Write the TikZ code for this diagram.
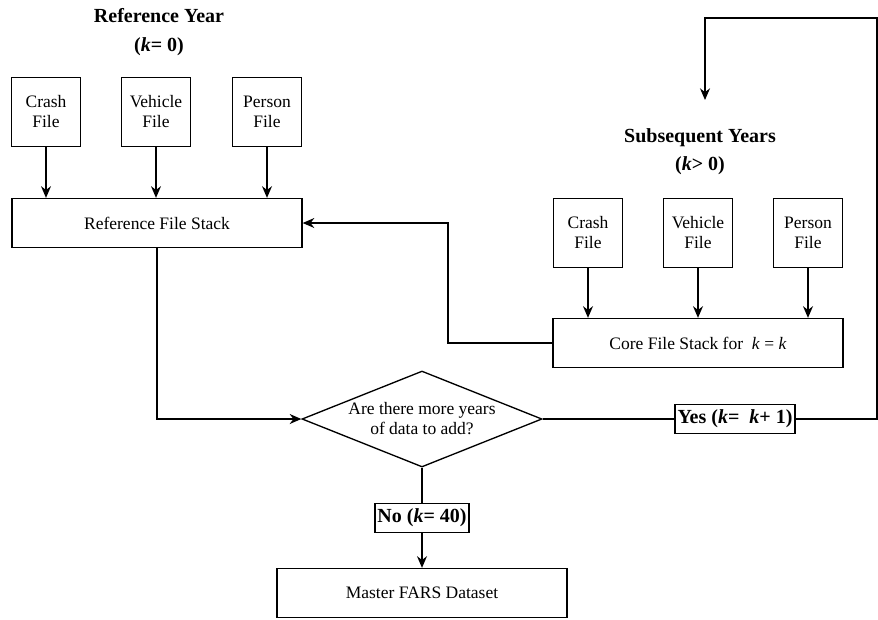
\documentclass[tikz,border=0pt]{standalone}
\usepackage{fontspec}
\setmainfont{Liberation Serif}
\usetikzlibrary{shapes.geometric,arrows.meta}
\tikzset{
	fichier/.style={draw,line width=0.8pt,minimum width=41.4pt,minimum height=41.4pt,inner sep=1pt,align=center,font=\fontsize{10.5}{12}\selectfont},
	pile/.style={draw,line width=0.8pt,minimum width=174pt,minimum height=29.4pt,font=\fontsize{10.5}{12}\selectfont},
	question/.style={draw,line width=0.8pt,diamond,aspect=2.5,inner sep=0pt,minimum width=144pt,minimum height=57.6pt,align=center,font=\fontsize{10.5}{12}\selectfont},
	etiquette/.style={draw,line width=0.8pt,fill=white,inner sep=1.5pt,minimum height=17.4pt,font=\fontsize{12}{14}\selectfont\bfseries},
	titre/.style={align=center,font=\fontsize{12}{17}\selectfont\bfseries},
	fleche/.style={line width=0.8pt,-{Stealth[length=7pt,width=6pt]}},
	trait/.style={line width=0.8pt}
}
\begin{document}
\begin{tikzpicture}[x=0.6pt,y=-0.6pt]
	\useasboundingbox (0,0) rectangle (878,619);
	%Noeuds de l'annee de reference
	\node[titre] (T0) at (159,32) {Reference Year\\(\textit{k}= 0)};
	\node[fichier] (C0) at (46,112) {Crash\\File};
	\node[fichier] (V0) at (156,112) {Vehicle\\File};
	\node[fichier] (P0) at (267,112) {Person\\File};
	\node[pile] (R0) at (157,223) {Reference File Stack};
	%Noeuds des annees suivantes
	\node[titre] (TK) at (700,152) {Subsequent Years\\(\textit{k}> 0)};
	\node[fichier] (CK) at (588,233) {Crash\\File};
	\node[fichier] (VK) at (698,233) {Vehicle\\File};
	\node[fichier] (PK) at (808,233) {Person\\File};
	\node[pile] (SK) at (698,343) {Core File Stack for\ \ \textit{k} = \textit{k}};
	%Decision et sortie
	\node[question] (Q) at (422,419) {Are there more years\\of data to add?};
	\node[etiquette] (OUI) at (735,419) {Yes (\textit{k}=\ \ \textit{k}+ 1)};
	\node[etiquette] (NON) at (422,518) {No (\textit{k}= 40)};
	\node[pile] (M) at (422,593) {Master FARS Dataset};
	\coordinate (B1) at (877,419);
	\coordinate (B2) at (705,18);
	\coordinate (B3) at (705,100);
	\coordinate (G1) at (448,343);
	%Aretes
	\draw[fleche] (C0)--(C0|-R0.north);
	\draw[fleche] (V0)--(V0|-R0.north);
	\draw[fleche] (P0)--(P0|-R0.north);
	\draw[fleche] (CK)--(CK|-SK.north);
	\draw[fleche] (VK)--(VK|-SK.north);
	\draw[fleche] (PK)--(PK|-SK.north);
	\draw[fleche] (SK.west)--(G1)|-(R0.east);
	\draw[fleche] (R0.south)|-(Q.west);
	\draw[trait] (Q.east)--(OUI.west);
	\draw[fleche] (OUI.east)--(B1)|-(B2)--(B3);
	\draw[trait] (Q.south)--(NON.north);
	\draw[fleche] (NON.south)--(M.north);
\end{tikzpicture}
\end{document}
